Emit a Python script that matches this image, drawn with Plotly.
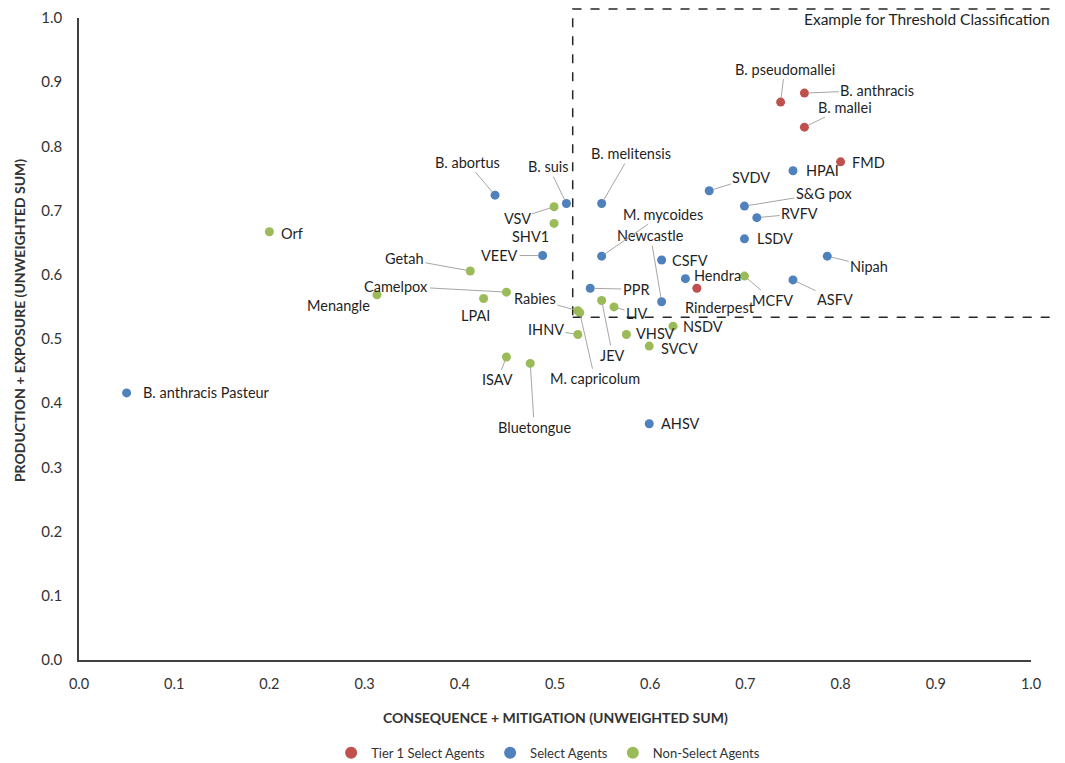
import plotly.graph_objects as go

# Tier 1 select agents
tier1_names = ["B. pseudomallei", "B. anthracis", "B. mallei", "FMD", "Rinderpest"]
tier1_x = [0.737, 0.762, 0.762, 0.800, 0.649]
tier1_y = [0.869, 0.883, 0.830, 0.776, 0.579]

# Select agents
select_names = ["HPAI", "SVDV", "S&G pox", "RVFV", "LSDV", "Nipah", "ASFV", "Hendra",
                "CSFV", "Newcastle", "B. melitensis", "M. mycoides", "PPR", "B. abortus",
                "B. suis", "VEEV", "AHSV", "B. anthracis Pasteur"]
select_x = [0.750, 0.662, 0.699, 0.712, 0.699, 0.786, 0.750, 0.637,
            0.612, 0.612, 0.549, 0.549, 0.537, 0.437,
            0.512, 0.487, 0.599, 0.050]
select_y = [0.762, 0.731, 0.707, 0.689, 0.656, 0.629, 0.592, 0.594,
            0.623, 0.558, 0.711, 0.629, 0.579, 0.724,
            0.711, 0.630, 0.368, 0.416]

# Non-select agents
nonselect_names = ["MCFV", "JEV", "LIV", "Rabies", "M. capricolum", "NSDV", "IHNV", "VHSV",
                   "SVCV", "ISAV", "Bluetongue", "VSV", "SHV1", "Getah", "Camelpox",
                   "Menangle", "LPAI", "Orf"]
nonselect_x = [0.699, 0.549, 0.562, 0.524, 0.526, 0.624, 0.524, 0.575,
               0.599, 0.449, 0.474, 0.499, 0.499, 0.411, 0.449,
               0.313, 0.425, 0.200]
nonselect_y = [0.598, 0.560, 0.550, 0.544, 0.541, 0.520, 0.507, 0.507,
               0.489, 0.472, 0.462, 0.706, 0.680, 0.606, 0.573,
               0.569, 0.563, 0.667]

tick_vals = [0.0, 0.1, 0.2, 0.3, 0.4, 0.5, 0.6, 0.7, 0.8, 0.9, 1.0]
tick_text = ["0.0", "0.1", "0.2", "0.3", "0.4", "0.5", "0.6", "0.7", "0.8", "0.9", "1.0"]

# label placement: name -> (dx px, dy px, leader line?)
label_pos = {
    "B. pseudomallei": (4, -33, True), "B. anthracis": (73, -3, True),
    "B. mallei": (41, -20, True), "FMD": (28, 1, False), "Rinderpest": (23, 19, False),
    "HPAI": (29, 0, False), "SVDV": (42, -13, True), "S&G pox": (80, -13, True),
    "RVFV": (43, -4, True), "LSDV": (31, 0, False), "Nipah": (42, 10, True),
    "ASFV": (42, 20, True), "Hendra": (32, -3, False), "CSFV": (28, 0, False),
    "Newcastle": (-11, -66, True), "B. melitensis": (29, -50, True),
    "M. mycoides": (61, -42, True), "PPR": (46, 1, True), "B. abortus": (-28, -33, True),
    "B. suis": (-18, -37, True), "VEEV": (-43, 0, True), "AHSV": (31, 0, False),
    "B. anthracis Pasteur": (80, 0, False),
    "MCFV": (28, 24, True), "JEV": (11, 55, True), "LIV": (23, 7, True),
    "Rabies": (-43, -12, True), "M. capricolum": (15, 66, True), "NSDV": (30, 0, False),
    "IHNV": (-32, -5, True), "VHSV": (29, -1, False), "SVCV": (30, 2, False),
    "ISAV": (-9, 23, True), "Bluetongue": (4, 64, True), "VSV": (-37, 12, True),
    "SHV1": (-24, 13, False), "Getah": (-66, -12, True), "Camelpox": (-110, -6, True),
    "Menangle": (-38, 11, False), "LPAI": (-8, 17, False), "Orf": (23, 2, False),
}

FONT = "Lato, Calibri, Arial"
groups = [
    ("Tier 1 Select Agents", tier1_names, tier1_x, tier1_y, "#c0504d"),
    ("Select Agents", select_names, select_x, select_y, "#4f81bd"),
    ("Non-Select Agents", nonselect_names, nonselect_x, nonselect_y, "#9bbb59"),
]

fig = go.Figure()
annotations = []
for gname, names, xs, ys, col in groups:
    fig.add_trace(go.Scatter(
        x=xs, y=ys, mode="markers", name=gname, text=names,
        marker=dict(size=9, color=col, line=dict(width=0)),
        hovertemplate="%{text}<br>%{x}, %{y}<extra></extra>",
    ))
    for n, xv, yv in zip(names, xs, ys):
        dx, dy, leader = label_pos[n]
        if leader:
            annotations.append(dict(
                x=xv, y=yv, text=n, showarrow=True, ax=dx, ay=dy,
                arrowhead=0, arrowwidth=1, arrowcolor="#a6a6a6", standoff=4,
                font=dict(family=FONT, size=14.5, color="#1f1f1f"),
            ))
        else:
            annotations.append(dict(
                x=xv, y=yv, text=n, showarrow=False, xshift=dx, yshift=-dy,
                font=dict(family=FONT, size=14.5, color="#1f1f1f"),
            ))

annotations += [
    dict(xref="paper", yref="paper", x=1.022, y=0.998, xanchor="right", yanchor="middle",
         text="Example for Threshold Classification", showarrow=False,
         font=dict(family=FONT, size=15.5, color="#1f1f1f")),
    dict(xref="paper", yref="paper", x=0.5, y=-0.090, xanchor="center", yanchor="middle",
         text="<b>CONSEQUENCE + MITIGATION (UNWEIGHTED SUM)</b>", showarrow=False,
         font=dict(family=FONT, size=14, color="#333333")),
    dict(xref="paper", yref="paper", x=-0.063, y=0.528, xanchor="center", yanchor="middle",
         text="<b>PRODUCTION + EXPOSURE (UNWEIGHTED SUM)</b>", showarrow=False, textangle=-90,
         font=dict(family=FONT, size=14, color="#333333")),
]

# page body adds an 8px offset, so the figure is a bit smaller than the window
fig.update_layout(
    width=1057, height=755,
    margin=dict(l=71, r=34, t=10, b=103, autoexpand=False),
    paper_bgcolor="white", plot_bgcolor="white",
    font=dict(family=FONT, size=14, color="#404040"),
    showlegend=True,
    legend=dict(orientation="h", xref="container", yref="container",
                x=0.511, xanchor="center", y=0.0135, yanchor="middle",
                font=dict(family=FONT, size=13, color="#333333"), itemsizing="constant",
                tracegroupgap=0, itemwidth=30),
    annotations=annotations,
    shapes=[dict(type="rect", xref="paper", yref="paper", x0=0.5186, x1=1.0326,
                 y0=0.534, y1=1.014, line=dict(color="#262626", width=1.5, dash="dash"))],
)
fig.update_xaxes(range=[0, 1], tickvals=tick_vals, ticktext=tick_text, showgrid=False,
                 zeroline=False, showline=True, linecolor="#404040", linewidth=1.5,
                 ticks="", ticklabelstandoff=10, ticklabeloverflow="allow",
                 tickfont=dict(family=FONT, size=14.5, color="#333333"))
fig.update_yaxes(range=[0, 1], tickvals=tick_vals, ticktext=tick_text, showgrid=False,
                 zeroline=False, showline=True, linecolor="#404040", linewidth=1.5,
                 ticks="", ticklabelstandoff=12, ticklabeloverflow="allow",
                 tickfont=dict(family=FONT, size=15, color="#333333"))

fig.write_html("out.html")
